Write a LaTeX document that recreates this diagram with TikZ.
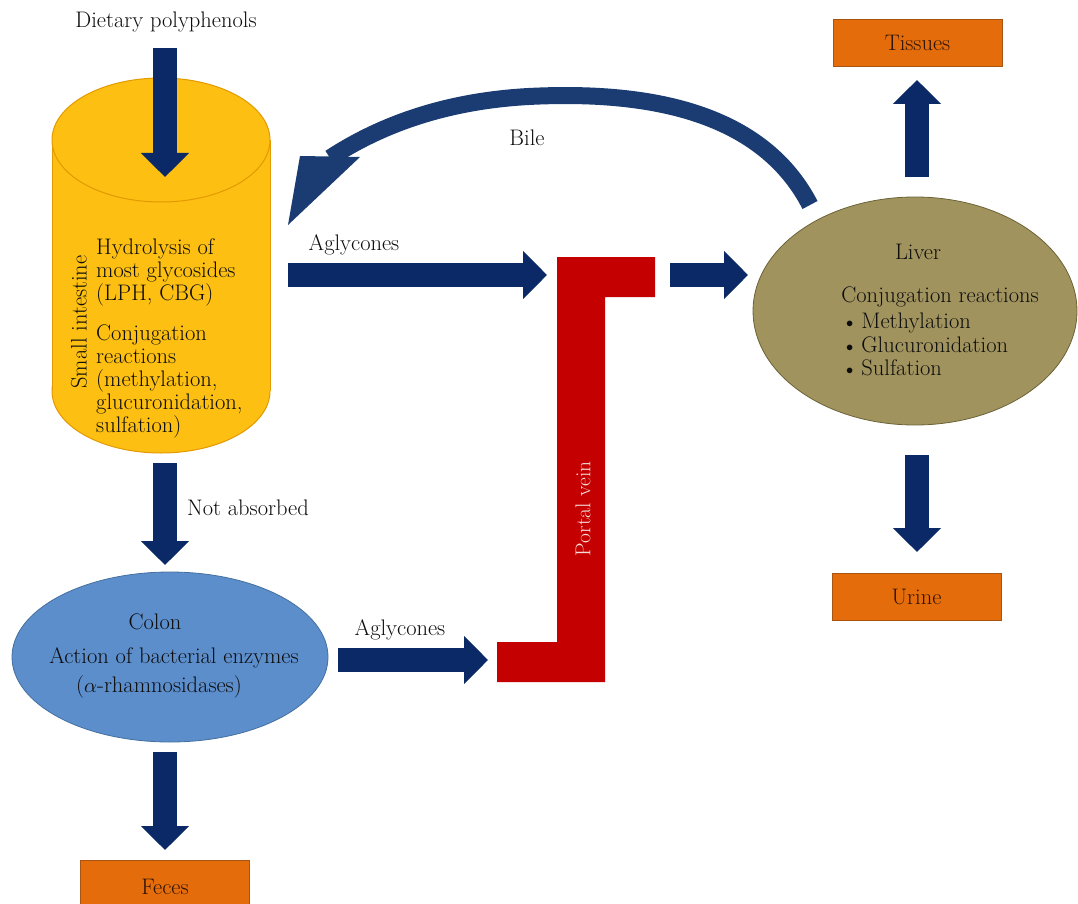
\documentclass[tikz,border=0pt]{standalone}
\usetikzlibrary{arrows.meta,shapes.geometric}
\definecolor{navy}{HTML}{0B2966}
\definecolor{bilecol}{HTML}{1A3C72}
\definecolor{cylfill}{HTML}{FDBF12}
\definecolor{cylline}{HTML}{E39A00}
\definecolor{colonfill}{HTML}{5C8ECC}
\definecolor{colonline}{HTML}{44709F}
\definecolor{liverfill}{HTML}{A0935E}
\definecolor{liverline}{HTML}{6B6236}
\definecolor{boxfill}{HTML}{E46C0A}
\definecolor{boxline}{HTML}{A85412}
\definecolor{boxtext}{HTML}{2E1408}
\definecolor{veinred}{HTML}{C40000}
\definecolor{veintext}{HTML}{F4DCDA}
\definecolor{txt}{HTML}{0D0D0D}
\newcommand\bodyfont{\fontsize{22.5}{23}\selectfont}
\newcommand\smbullet{\raisebox{1pt}{\fontsize{15}{15}\selectfont$\bullet$}}
\tikzset{
  lbl/.style={font=\bodyfont, text=txt, inner sep=0pt},
  blk/.style={draw=navy, line width=24pt, -{Triangle[length=24pt,width=47pt]}},
  outbox/.style={draw=boxline, line width=0.8pt, fill=boxfill, minimum width=169pt, minimum height=47pt, inner sep=0pt, font=\bodyfont, text=boxtext},
}
\begin{document}
\begin{tikzpicture}[x=1pt,y=-1pt]
\useasboundingbox (0,0) rectangle (1078,904);
\fill[white] (0,0) rectangle (1078,904);

% ---- small intestine cylinder
\draw[cylline, line width=1pt, fill=cylfill] (161,391) ellipse [x radius=109pt, y radius=62pt];
\fill[cylfill] (52,140) rectangle (270,391);
\draw[cylline, line width=1pt] (52,140) -- (52,391) (270,140) -- (270,391);
\filldraw[cylline, line width=1pt, fill=cylfill] (161,140) ellipse [x radius=109pt, y radius=62pt];
\node[lbl, rotate=90] (si) at (79,322) {Small intestine};
\node[lbl, anchor=north west, align=left] (sitext) at (96,238.5)
  {Hydrolysis of\\most glycosides\\(LPH, CBG)\\[17pt]Conjugation\\reactions\\(methylation,\\glucuronidation,\\sulfation)};

% ---- colon
\node[ellipse, draw=colonline, line width=0.8pt, fill=colonfill, minimum width=316pt, minimum height=170pt, inner sep=0pt] (colon) at (170,657) {};
\node[lbl] (colonT) at (155,622) {Colon};
\node[lbl] (colonA) at (174,658) {Action of bacterial enzymes};
\node[lbl] (colonB) at (159,687) {($\alpha$-rhamnosidases)};

% ---- liver
\node[ellipse, draw=liverline, line width=0.8pt, fill=liverfill, minimum width=324pt, minimum height=228pt, inner sep=0pt] (liver) at (915,311) {};
\node[lbl] (liverT) at (918,252) {Liver};
\node[lbl] (liverC) at (940,297) {Conjugation reactions};
\node[lbl, anchor=north west, align=left, font=\fontsize{22.5}{23.5}\selectfont] (liverL) at (846,313)
  {\smbullet\hspace{8pt}Methylation\\\smbullet\hspace{8pt}Glucuronidation\\\smbullet\hspace{8pt}Sulfation};

% ---- portal vein
\fill[veinred] (557,257) -- (655,257) -- (655,297) -- (605,297) -- (605,682) -- (497,682) -- (497,642) -- (557,642) -- cycle;
\node[lbl, rotate=90, text=veintext, font=\fontsize{21.5}{23}\selectfont] (pv) at (583,509) {Portal vein};

% ---- output boxes
\node[outbox] (tissues) at (917.5,42.5) {Tissues};
\node[outbox] (urine) at (916.5,596.5) {Urine};
\node[outbox, minimum height=54pt] (feces) at (165,887) {Feces};

% ---- labels
\node[lbl] (diet) at (166,22) {Dietary polyphenols};
\node[lbl] (agl1) at (354,245) {Aglycones};
\node[lbl] (agl2) at (400,630) {Aglycones};
\node[lbl] (notabs) at (248,508) {Not absorbed};
\node[lbl] (bile) at (527,138) {Bile};

% ---- arrow end points
\coordinate (dietS) at (165,48);   \coordinate (dietE) at (165,177);
\coordinate (a1S) at (288,275);    \coordinate (a1E) at (547,275);
\coordinate (pvS) at (670,275);    \coordinate (pvE) at (748,275);
\coordinate (tiS) at (917,177);    \coordinate (tiE) at (917,80);
\coordinate (urS) at (917,455);    \coordinate (urE) at (917,552);
\coordinate (naS) at (165,463);    \coordinate (naE) at (165,565);
\coordinate (a2S) at (338,660);    \coordinate (a2E) at (488,660);
\coordinate (feS) at (165,752);    \coordinate (feE) at (165,850);

\draw[blk] (dietS) -- (dietE);
\draw[blk] (a1S) -- (a1E);
\draw[blk] (pvS) -- (pvE);
\draw[blk] (tiS) -- (tiE);
\draw[blk] (urS) -- (urE);
\draw[blk] (naS) -- (naE);
\draw[blk] (a2S) -- (a2E);
\draw[blk] (feS) -- (feE);

% ---- bile curved arrow
\coordinate (bileS) at (810,205);
\coordinate (bileM) at (540,96);
\coordinate (bileH) at (330,158);
\coordinate (bileTip) at (288,225);
\draw[bilecol, line width=17pt] (bileS) .. controls (762,112) and (650,92) .. (bileM)
   .. controls (450,99) and (382,124) .. (bileH);
\fill[bilecol] (300,156) -- (360,157) -- (bileTip) -- cycle;
\end{tikzpicture}
\end{document}
